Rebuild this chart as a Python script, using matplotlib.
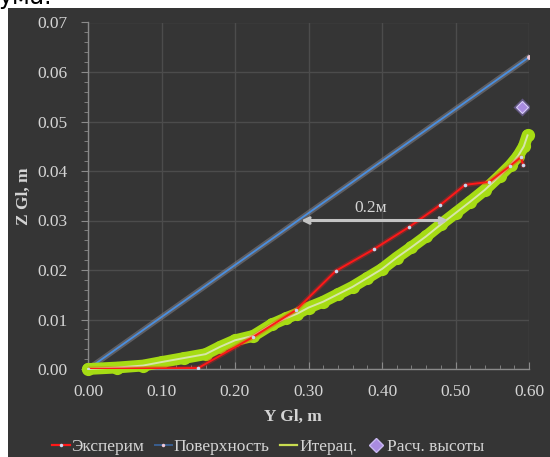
import matplotlib
matplotlib.use("Agg")
import matplotlib.pyplot as plt
import matplotlib.patheffects as pe
from matplotlib.patches import Rectangle
from matplotlib.ticker import MultipleLocator
from matplotlib.lines import Line2D

# Experimental profile
exp_y = [0.000, 0.150, 0.225, 0.283, 0.337, 0.389, 0.437, 0.479, 0.513, 0.546, 0.574, 0.589, 0.592]
exp_z = [0.0000, 0.0002, 0.0065, 0.0119, 0.0198, 0.0242, 0.0287, 0.0331, 0.0372, 0.0378, 0.0410, 0.0428, 0.0412]

# Free surface line
surf_y = [0.0, 0.6]
surf_z = [0.0, 0.063]

# Iterative solution
it_y = [0.000, 0.040, 0.075, 0.100, 0.130, 0.160, 0.180, 0.200, 0.225, 0.250, 0.270, 0.285,
        0.300, 0.320, 0.340, 0.360, 0.380, 0.400, 0.420, 0.440, 0.460, 0.480, 0.500, 0.520,
        0.540, 0.560, 0.575, 0.585, 0.593, 0.598]
it_z = [0.0000, 0.0003, 0.0007, 0.0014, 0.0022, 0.0030, 0.0045, 0.0058, 0.0067, 0.0090, 0.0103, 0.0112,
        0.0124, 0.0136, 0.0151, 0.0166, 0.0184, 0.0202, 0.0225, 0.0246, 0.0268, 0.0292, 0.0315, 0.0338,
        0.0362, 0.0390, 0.0412, 0.0430, 0.0450, 0.0472]

# Computed height
calc_y = [0.590]
calc_z = [0.0529]

# Width annotation
span_start, span_end, span_level = 0.29, 0.49, 0.030
span_label = "0.2м"

x_ticks = [0.0, 0.1, 0.2, 0.3, 0.4, 0.5, 0.6]
y_ticks = [0.00, 0.01, 0.02, 0.03, 0.04, 0.05, 0.06, 0.07]

BG = "#353535"
GRID = "#4c4c4c"
TXT = "#d4d4d4"
RED = "#ff1818"
BLUE = "#4a8fe0"
GREEN = "#a6dc14"
GREEN_CORE = "#d6e6a8"
PURPLE = "#a98ce0"

plt.rcParams["font.family"] = ["Liberation Serif", "DejaVu Serif"]

W, H = 550, 457
fig = plt.figure(figsize=(W / 100, H / 100), dpi=100, facecolor="white")

# dark panel under the chart
fig.patches.append(Rectangle((8 / W, 0), 1 - 8 / W, 1 - 8 / H, transform=fig.transFigure,
                             facecolor=BG, edgecolor="none", zorder=-5))
fig.text(-0.004, 1 - 4 / H, "ума.", fontsize=17, color="black", family="DejaVu Sans",
         va="baseline", ha="left")

ax = fig.add_axes([88 / W, 1 - 369 / H, (529 - 88) / W, (369 - 22.5) / H])
ax.set_facecolor(BG)
ax.set_xlim(0, 0.6)
ax.set_ylim(0, 0.07)
ax.set_xticks(x_ticks)
ax.set_yticks(y_ticks)
ax.set_xticklabels([f"{v:.2f}" for v in x_ticks])
ax.set_yticklabels([f"{v:.2f}" for v in y_ticks])
ax.xaxis.set_minor_locator(MultipleLocator(0.02))
ax.yaxis.set_minor_locator(MultipleLocator(0.002))
ax.grid(True, which="major", color=GRID, linewidth=1.0, zorder=0)
ax.set_axisbelow(True)
for s in ["top", "right"]:
    ax.spines[s].set_visible(False)
for s in ["left", "bottom"]:
    ax.spines[s].set_color("#8a8a8a")
    ax.spines[s].set_linewidth(1.0)
ax.tick_params(axis="both", which="major", colors="#8a8a8a", labelcolor=TXT, labelsize=12.5)
ax.tick_params(axis="y", which="major", direction="out", length=5, pad=10)
ax.tick_params(axis="y", which="minor", direction="out", length=3, colors="#8a8a8a")
ax.tick_params(axis="x", which="major", direction="in", length=5, pad=11)
ax.tick_params(axis="x", which="minor", direction="in", length=3, colors="#8a8a8a")

ax.set_xlabel("Y Gl, m", fontsize=12.5, fontweight="bold", color=TXT)
ax.xaxis.set_label_coords((293 - 88) / 441, -40 / 346.5)
ax.set_ylabel("Z Gl, m", fontsize=12.5, fontweight="bold", color=TXT)
ax.yaxis.set_label_coords(-(88 - 32) / 441, 0.5)

# surface
ax.plot(surf_y, surf_z, color=BLUE, linewidth=1.3, zorder=3,
        path_effects=[pe.Stroke(linewidth=4, foreground="#8a8890", alpha=0.5), pe.Normal()])
ax.plot(surf_y[-1:], surf_z[-1:], linestyle="none", marker="o", markersize=3.5,
        color="#f0c8d8", markeredgecolor="none", zorder=3)

# iterative solution: thick band of overlapping dots with a light core
ax.plot(it_y, it_z, color=GREEN, linewidth=8.5, solid_capstyle="round", solid_joinstyle="round",
        zorder=4, clip_on=False, marker="o", markersize=9.5, markeredgecolor="none")
ax.plot(it_y, it_z, color=GREEN_CORE, linewidth=1.4, zorder=5, clip_on=False)

# experiment
ax.plot(exp_y, exp_z, color=RED, linewidth=1.4, zorder=6,
        path_effects=[pe.Stroke(linewidth=3.5, foreground=RED, alpha=0.3), pe.Normal()])
ax.plot(exp_y, exp_z, linestyle="none", marker="o", markersize=2.6, color="#c8d8f0",
        markeredgecolor="none", zorder=6)

# computed height
ax.plot(calc_y, calc_z, linestyle="none", marker="D", markersize=9, color="#8f7ad0",
        alpha=0.5, markeredgecolor="none", zorder=7)
ax.plot(calc_y, calc_z, linestyle="none", marker="D", markersize=6.5, color=PURPLE,
        markeredgecolor="#d8ccf8", markeredgewidth=0.8, zorder=7)

# width annotation
ax.annotate("", xy=(span_start, span_level), xytext=(span_end, span_level),
            arrowprops=dict(arrowstyle="<->", color="#c4c4c4", linewidth=2.2,
                            shrinkA=0, shrinkB=0, mutation_scale=10), zorder=8)
ax.text((span_start + span_end) / 2 - 0.005, span_level + 0.0009, span_label, fontsize=12.5,
        color=TXT, ha="center", va="bottom", zorder=8)

handles = [
    Line2D([], [], color=RED, linewidth=1.6, marker="o", markersize=2.5,
           markerfacecolor="#c8d8f0", markeredgecolor="none"),
    Line2D([], [], color="#3a5f90", linewidth=1.4, marker="o", markersize=2.5,
           markerfacecolor="#f0c8d8", markeredgecolor="none"),
    Line2D([], [], color="#c8dc50", linewidth=1.6),
    Line2D([], [], linestyle="none", marker="D", markersize=7, color=PURPLE,
           markeredgecolor="#c8b8f0"),
]
labels = ["Эксперим", "Поверхность", "Итерац.", "Расч. высоты"]
leg = fig.legend(handles, labels, loc="center", bbox_to_anchor=(268 / W, 1 - 447 / H),
                 ncol=4, frameon=False, fontsize=12.5, handlelength=1.0, handletextpad=0.1,
                 columnspacing=0.6, labelcolor=TXT)

fig.savefig("out.png", dpi=100, facecolor="white")
